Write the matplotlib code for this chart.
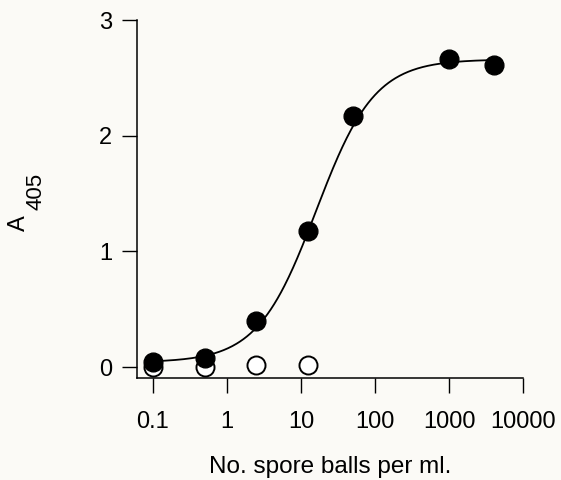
import matplotlib
matplotlib.use("Agg")
import matplotlib.pyplot as plt
import numpy as np

# spore ball dilutions (per ml) and absorbance readings
conc = [0.1, 0.5, 2.5, 12.5, 50, 1000, 4000]
a405_filled = [0.04, 0.08, 0.40, 1.18, 2.17, 2.66, 2.61]
conc_open = [0.1, 0.5, 2.5, 12.5]
a405_open = [0.0, 0.0, 0.02, 0.02]

# four-parameter logistic fit
fit_bottom, fit_top, fit_ec50, fit_hill = 0.04, 2.66, 16.0, 1.1

xticks = [0.1, 1, 10, 100, 1000, 10000]
xtick_labels = ["0.1", "1", "10", "100", "1000", "10000"]
yticks = [0, 1, 2, 3]

plt.rcParams["font.family"] = ["Liberation Sans", "DejaVu Sans"]
bg = "#fbfaf6"

fig = plt.figure(figsize=(5.61, 4.8), dpi=100, facecolor=bg)
ax = fig.add_axes([0.2442, 0.2125, 0.9323 - 0.2442, 0.9583 - 0.2125], facecolor=bg)

xs = np.geomspace(conc[0], conc[-1], 400)
ys = fit_bottom + (fit_top - fit_bottom) / (1 + (fit_ec50 / xs) ** fit_hill)
ax.plot(xs, ys, color="black", lw=1.3, zorder=2)

ax.plot(conc_open, a405_open, "o", ms=13, mfc="white", mec="black", mew=1.4, zorder=3)
ax.plot(conc, a405_filled, "o", ms=13.5, mfc="black", mec="black", zorder=4)

ax.set_xscale("log")
ax.set_xlim(0.0608, 10000)
ax.set_ylim(-0.095, 3)
ax.set_xticks(xticks)
ax.set_xticklabels(xtick_labels)
ax.set_yticks(yticks)
ax.minorticks_off()

for side in ("top", "right"):
    ax.spines[side].set_visible(False)
for side in ("left", "bottom"):
    ax.spines[side].set_linewidth(1.1)

ax.tick_params(direction="out", length=10.8, width=1.0, labelsize=17, pad=13, axis="x")
ax.tick_params(direction="out", length=10.8, width=1.0, labelsize=17, pad=7, axis="y")

fig.text(330 / 561, 7 / 480, "No. spore balls per ml.", fontsize=17.5, ha="center", va="baseline")
fig.text(19 / 561, 1 - 223 / 480, "A", fontsize=17, rotation=90, ha="center", va="center")
fig.text(36 / 561, 1 - 191 / 480, "405", fontsize=16, rotation=90, ha="center", va="center")

fig.savefig("out.png", dpi=100, facecolor=bg)
